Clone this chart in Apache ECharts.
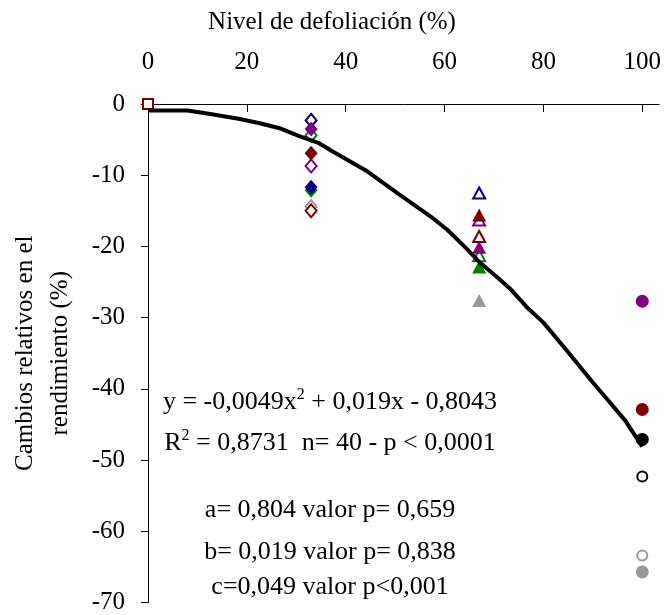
<!DOCTYPE html>
<html>
<head>
<meta charset="utf-8">
<script src="https://cdn.jsdelivr.net/npm/echarts@6/dist/echarts.min.js"></script>
<style>
  html, body { margin: 0; padding: 0; background: #fff; }
  #chart { width: 664px; height: 615px; }
</style>
</head>
<body>
<div id="chart"></div>
<script>
// Defoliation levels (%) and relative yield changes (%) per level
const xTicks = [0, 20, 40, 60, 80, 100];
const level0 = 0;
const level33 = 33;
const level67 = 67;
const level100 = 100;
const yield0 = [0];
const yield33 = [-14.4, -15.0, -12.1, -11.7, -8.7, -6.9, -4.4, -2.3, -3.5];
const yield67 = [-27.6, -22.9, -21.3, -20.1, -18.6, -16.3, -15.6, -12.5];
const yield100 = [-27.7, -42.9, -47.1, -52.3, -63.4, -65.7];

// Fitted quadratic trend, sampled along the defoliation axis
const fitX = [0, 8, 12.6, 18.6, 22.6, 26.6, 30.6, 34.6, 37.2, 44, 50.6, 57.2, 60.6, 64, 67.2, 70.6, 73.2, 76.6, 80, 84.6, 90, 93.2, 96.6, 100];
const fitY = [-0.9, -0.9, -1.4, -2.1, -2.7, -3.4, -4.5, -5.5, -6.6, -9.3, -12.6, -15.8, -17.7, -20.0, -22.3, -24.3, -25.9, -28.5, -30.7, -34.5, -39.1, -41.7, -44.5, -48.1];

// Marker styles (colour, filled or hollow) for each point, in drawing order
const style0 = [['#800000', false]];
const style33 = [['#999999', false], ['#800000', false], ['#008000', true], ['#000080', true],
                 ['#800080', false], ['#800000', true], ['#008000', false], ['#000080', false], ['#800080', true]];
const style67 = [['#999999', true], ['#008000', true], ['#008000', false], ['#800080', true],
                 ['#800000', false], ['#800080', false], ['#800000', true], ['#000080', false]];
const style100 = [['#800080', true], ['#800000', true], ['#000000', true], ['#000000', false],
                  ['#999999', false], ['#999999', true]];

const FONT = 'Liberation Serif';

function markerData(level, values, styles, fullSize, hollowSize) {
  return values.map((v, i) => {
    const [c, filled] = styles[i];
    return {
      value: [level, v],
      symbolSize: filled ? fullSize : hollowSize,
      itemStyle: filled
        ? { color: c, borderColor: c, borderWidth: 0, opacity: 1 }
        : { color: '#ffffff', borderColor: c, borderWidth: 2, opacity: 1 }
    };
  });
}

const chart = echarts.init(document.getElementById('chart'), null, { renderer: 'canvas' });

const option = {
  animation: false,
  backgroundColor: '#ffffff',
  grid: { left: 147, top: 104, right: 0, bottom: 12 },
  xAxis: {
    type: 'value',
    position: 'top',
    min: 0,
    max: 103.4,
    splitLine: { show: false },
    axisLine: { lineStyle: { color: '#000', width: 1 } },
    axisTick: { inside: true, length: 8, lineStyle: { color: '#000' }, customValues: xTicks },
    axisLabel: {
      customValues: xTicks,
      margin: 29,
      fontFamily: FONT, fontSize: 25, color: '#000'
    }
  },
  yAxis: {
    type: 'value',
    min: -70,
    max: 0,
    interval: 10,
    name: 'Cambios relativos en el\nrendimiento (%)',
    nameLocation: 'middle',
    nameRotate: 90,
    nameGap: 70,
    nameTextStyle: { fontFamily: FONT, fontSize: 25, color: '#000', lineHeight: 35 },
    splitLine: { show: false },
    axisLine: { show: true, lineStyle: { color: '#000', width: 1 } },
    axisTick: { show: true, inside: false, length: 7, lineStyle: { color: '#000' } },
    axisLabel: { margin: 23, fontFamily: FONT, fontSize: 25, color: '#000' }
  },
  graphic: [
    {
      type: 'text', left: 'center', x: 333, y: 22,
      style: { text: 'Nivel de defoliación (%)', font: '25px "Liberation Serif"', fill: '#000',
               align: 'center', verticalAlign: 'middle' }
    },
    {
      type: 'group',
      children: [
        { type: 'text', x: 330, y: 402,
          style: { text: 'y = -0,0049x{s|2} + 0,019x - 0,8043', font: '26px "Liberation Serif"', fill: '#000',
                   align: 'center', verticalAlign: 'middle',
                   rich: { s: { fontSize: 16, fontFamily: FONT, verticalAlign: 'top', padding: [0, 0, 14, 0] } } } },
        { type: 'text', x: 330, y: 443,
          style: { text: 'R{s|2} = 0,8731  n= 40 - p < 0,0001', font: '26px "Liberation Serif"', fill: '#000',
                   align: 'center', verticalAlign: 'middle',
                   rich: { s: { fontSize: 16, fontFamily: FONT, verticalAlign: 'top', padding: [0, 0, 14, 0] } } } },
        { type: 'text', x: 330, y: 510,
          style: { text: 'a= 0,804 valor p= 0,659', font: '26px "Liberation Serif"', fill: '#000',
                   align: 'center', verticalAlign: 'middle' } },
        { type: 'text', x: 330, y: 552,
          style: { text: 'b= 0,019 valor p= 0,838', font: '26px "Liberation Serif"', fill: '#000',
                   align: 'center', verticalAlign: 'middle' } },
        { type: 'text', x: 330, y: 587,
          style: { text: 'c=0,049 valor p<0,001', font: '26px "Liberation Serif"', fill: '#000',
                   align: 'center', verticalAlign: 'middle' } }
      ]
    }
  ],
  series: [
    {
      type: 'scatter', name: '0%', symbol: 'rect', clip: false, z: 3,
      data: markerData(level0, yield0, style0, 12, 10)
    },
    {
      type: 'scatter', name: '33%', symbol: 'diamond', clip: false, z: 3,
      data: markerData(level33, yield33, style33, [13, 15], [11, 13])
    },
    {
      type: 'scatter', name: '67%', symbol: 'triangle', clip: false, z: 3,
      data: markerData(level67, yield67, style67, [14, 13], [12, 11])
    },
    {
      type: 'scatter', name: '100%', symbol: 'circle', clip: false, z: 3,
      data: markerData(level100, yield100, style100, 13, 10)
    },
    {
      type: 'line', name: 'ajuste', z: 5,
      data: fitX.map((x, i) => [x, fitY[i]]),
      symbol: 'none', smooth: false,
      lineStyle: { color: '#000', width: 4 }
    }
  ]
};

chart.setOption(option);
</script>
</body>
</html>
